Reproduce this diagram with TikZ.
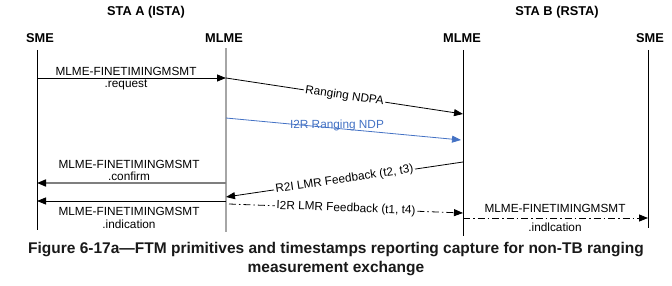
\documentclass[tikz,border=0pt]{standalone}
\usepackage{fontspec}
\setmainfont{Liberation Sans}
\usetikzlibrary{arrows.meta}
\definecolor{ndpblue}{HTML}{4472C4}
\definecolor{lifegray}{HTML}{A6A6A6}
\definecolor{cfgray}{HTML}{7F7F7F}
\begin{document}
\begin{tikzpicture}[x=1pt,y=-1pt,
  lbl/.style={font=\fontsize{11.8}{11.8}\selectfont, inner sep=0pt, align=center},
  hdr/.style={font=\fontsize{12.8}{14}\selectfont\bfseries, inner sep=0pt},
  life/.style={line width=0.9pt},
  msg/.style={line width=0.8pt, -{Triangle[length=9pt,width=7pt,color=black]}},
  dd/.style={dash pattern=on 7pt off 3pt on 1.5pt off 3pt},
  captxt/.style={font=\fontsize{15.5}{17}\selectfont\bfseries, inner sep=0pt, text=black!90}
]
\useasboundingbox (0,0) rectangle (672,286);
% headers
\node[hdr] (staA) at (146,12) {STA A (ISTA)};
\node[hdr] (staB) at (557,12) {STA B (RSTA)};
\node[hdr] (smeA) at (40,38) {SME};
\node[hdr] (mlmeA) at (224,38) {MLME};
\node[hdr] (mlmeB) at (462,38) {MLME};
\node[hdr] (smeB) at (650,38) {SME};
% lifelines
\coordinate (smeAt) at (37,50);   \coordinate (smeAb) at (37,230);
\coordinate (mlmeAt) at (226,48); \coordinate (mlmeAb) at (226,232);
\coordinate (mlmeBt) at (463,50); \coordinate (mlmeBb) at (463,236);
\coordinate (smeBt) at (648,50);  \coordinate (smeBb) at (648,228);
\draw[life] (smeAt) -- (smeAb);
\draw[life, lifegray, line width=1.3pt] (mlmeAt) -- (mlmeAb);
\draw[life] (mlmeBt) -- (mlmeBb);
\draw[life] (smeBt) -- (smeBb);
% request
\coordinate (rqS) at (37,78); \coordinate (rqE) at (226,78);
\draw[msg] (rqS) -- (rqE);
\node[lbl] (rqL1) at (126,71.5) {MLME-FINETIMINGMSMT};
\node[lbl] (rqL2) at (126,84.5) {.request};
% Ranging NDPA
\coordinate (ndpaS) at (226,78); \coordinate (ndpaE) at (463,114);
\draw[msg] (ndpaS) -- node[lbl, sloped, fill=white, inner sep=1.5pt] (ndpaL) {Ranging NDPA} (ndpaE);
% I2R Ranging NDP
\coordinate (ndpS) at (226,118); \coordinate (ndpE) at (461,140);
\draw[msg, ndpblue, -{Triangle[length=9pt,width=7pt]}] (ndpS) -- (ndpE);
\node[lbl, text=ndpblue] (ndpL) at (337,125) {I2R Ranging NDP};
% R2I LMR Feedback
\coordinate (r2iS) at (463,162); \coordinate (r2iE) at (226,197);
\draw[msg] (r2iS) -- node[lbl, sloped, fill=white, inner sep=1.5pt] (r2iL) {R2I LMR Feedback (t2, t3)} (r2iE);
% confirm
\coordinate (cfS) at (226,183); \coordinate (cfE) at (37,183);
\draw[msg, cfgray, line width=1.6pt] (cfS) -- (cfE);
\node[lbl] (cfL1) at (129,164.5) {MLME-FINETIMINGMSMT};
\node[lbl] (cfL2) at (129,176.5) {.confirm};
% indication at STA A
\coordinate (inS) at (226,201); \coordinate (inE) at (37,201);
\draw[msg] (inS) -- (inE);
\node[lbl] (inL1) at (129,211.5) {MLME-FINETIMINGMSMT};
\node[lbl] (inL2) at (129,224) {.indication};
% I2R LMR Feedback
\coordinate (i2rS) at (229,204); \coordinate (i2rE) at (463,213);
\draw[msg, dd] (i2rS) -- node[lbl, sloped, fill=white, inner sep=1.5pt] (i2rL) {I2R LMR Feedback (t1, t4)} (i2rE);
% indication at STA B
\coordinate (ibS) at (463,218); \coordinate (ibE) at (648,218);
\draw[msg, dd] (ibS) -- (ibE);
\node[lbl] (ibL1) at (555,208) {MLME-FINETIMINGMSMT};
\node[lbl] (ibL2) at (555,227) {.indlcation};
% caption
\node[captxt] (cap1) at (336,250) {Figure 6-17a—FTM primitives and timestamps reporting capture for non-TB ranging};
\node[captxt] (cap2) at (336,269) {measurement exchange};
\end{tikzpicture}
\end{document}
